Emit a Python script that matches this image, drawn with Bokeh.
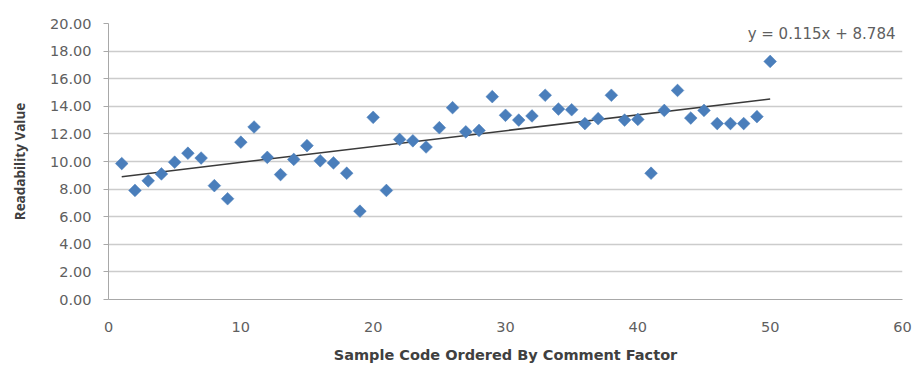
import numpy as np
from bokeh.plotting import figure
from bokeh.models import FixedTicker, NumeralTickFormatter, Range1d, Label, ColumnDataSource
from bokeh.embed import file_html
from bokeh.resources import INLINE

# ---- data ----
sample_code = list(range(1, 51))
readability = [9.85, 7.9, 8.6, 9.1, 9.95, 10.6, 10.25, 8.25, 7.3, 11.4,
               12.5, 10.3, 9.05, 10.15, 11.15, 10.05, 9.9, 9.15, 6.4, 13.2,
               7.9, 11.6, 11.5, 11.05, 12.45, 13.9, 12.15, 12.25, 14.7, 13.35,
               13.0, 13.3, 14.8, 13.8, 13.75, 12.75, 13.1, 14.8, 13.0, 13.05,
               9.15, 13.7, 15.15, 13.15, 13.7, 12.75, 12.75, 12.75, 13.25, 17.25]
trend_slope = 0.115
trend_intercept = 8.784
x_ticks = [0, 10, 20, 30, 40, 50, 60]
y_ticks = [0, 2, 4, 6, 8, 10, 12, 14, 16, 18, 20]
equation_text = "y = 0.115x + 8.784"
x_title = "Sample Code Ordered By Comment Factor"
y_title = "Readability Value"

TICK_FONT = "DejaVu Sans"
TICK_COLOR = "#5f5f5f"

p = figure(frame_width=794, frame_height=276,
           min_border_left=108, min_border_right=11,
           min_border_top=23, min_border_bottom=74,
           output_backend="svg", toolbar_location=None,
           x_range=Range1d(0, 60), y_range=Range1d(0, 20))
p.outline_line_color = None
p.background_fill_color = "white"
p.border_fill_color = "white"

# grid
p.xgrid.grid_line_color = None
p.ygrid.grid_line_color = "#cccccc"
p.ygrid.grid_line_width = 1.5
p.ygrid.ticker = FixedTicker(ticks=y_ticks)

# axes
p.xaxis.ticker = FixedTicker(ticks=x_ticks)
p.yaxis.ticker = FixedTicker(ticks=y_ticks)
p.yaxis.formatter = NumeralTickFormatter(format="0.00")
for ax in (p.xaxis[0], p.yaxis[0]):
    ax.axis_line_color = "#a8a8a8"
    ax.major_tick_line_color = "#a8a8a8"
    ax.minor_tick_line_color = None
    ax.major_tick_in = 0
    ax.major_label_text_font = TICK_FONT
    ax.major_label_text_font_size = "14.5px"
    ax.major_label_text_color = TICK_COLOR
    ax.axis_label_text_font_style = "bold"
    ax.axis_label_text_color = "#404040"
p.yaxis.major_tick_out = 5
p.yaxis.major_label_standoff = 12
p.yaxis.axis_label = y_title
p.yaxis.axis_label_text_font = "Open Sans"
p.yaxis.axis_label_text_font_size = "13.5px"
p.yaxis.axis_label_standoff = 18
p.xaxis.major_tick_out = 0
p.xaxis.major_label_standoff = 22
p.xaxis.axis_label = x_title
p.xaxis.axis_label_text_font = "DejaVu Sans"
p.xaxis.axis_label_text_font_size = "14.5px"
p.xaxis.axis_label_standoff = 12

# trendline
tx = np.array([sample_code[0], sample_code[-1]], dtype=float)
ty = trend_slope * tx + trend_intercept
p.line(tx, ty, line_color="#3a3a3a", line_width=1.5)

# points
src = ColumnDataSource(dict(x=sample_code, y=readability))
p.scatter("x", "y", source=src, marker="square", angle=np.pi / 4, size=9,
          fill_color="#4A7EBB", line_color="#4A7EBB", line_width=0.5)

# equation label
p.add_layout(Label(x=59.47, y=19.25, text=equation_text, text_align="right",
                   text_baseline="middle", text_font=TICK_FONT, text_font_size="15px",
                   text_color=TICK_COLOR))

open("out.html", "w").write(file_html(p, INLINE))
